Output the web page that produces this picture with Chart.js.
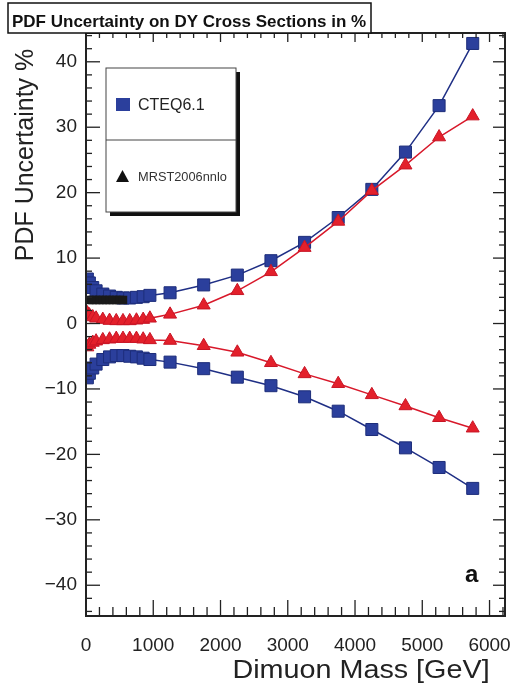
<!DOCTYPE html>
<html>
<head>
<meta charset="utf-8">
<script src="https://cdn.jsdelivr.net/npm/chart.js@4.4.1/dist/chart.umd.min.js"></script>
<style>html,body{margin:0;padding:0;background:#fff}</style>
</head>
<body>
<div style="width:518px;height:696px"><canvas id="pdf-chart"></canvas></div>
<script>
// dimuon mass points [GeV]
const mass = [20, 50, 100, 150, 250, 350, 450, 550, 650, 750, 850, 950, 1250, 1750, 2250, 2750, 3250, 3750, 4250, 4750, 5250, 5750];
const cteqUp   = [6.8, 6.2, 5.5, 5.0, 4.5, 4.2, 4.0, 3.9, 3.9, 4.0, 4.1, 4.3, 4.7, 5.9, 7.4, 9.6, 12.4, 16.2, 20.5, 26.2, 33.3, 42.8];
const cteqDown = [-8.3, -7.6, -6.8, -6.2, -5.5, -5.1, -4.9, -4.9, -5.0, -5.1, -5.3, -5.5, -5.9, -6.9, -8.2, -9.5, -11.2, -13.4, -16.2, -19.0, -22.0, -25.2];
const mrstUp   = [1.6, 1.3, 1.0, 0.8, 0.6, 0.45, 0.4, 0.4, 0.4, 0.5, 0.6, 0.8, 1.4, 2.8, 5.0, 7.9, 11.6, 15.6, 20.3, 24.2, 28.5, 31.7];
const mrstDown = [-3.6, -3.2, -2.9, -2.7, -2.5, -2.4, -2.3, -2.3, -2.3, -2.3, -2.4, -2.5, -2.6, -3.4, -4.4, -6.0, -7.7, -9.2, -10.9, -12.6, -14.4, -16.0];
// black band under the low-mass CTEQ points
const blackMass = [50, 100, 150, 200, 250, 300, 350, 400, 450, 500, 550];
const blackVals = [3.6, 3.6, 3.6, 3.6, 3.6, 3.6, 3.6, 3.6, 3.6, 3.6, 3.6];
// tick labels
const xTicks = [0, 1000, 2000, 3000, 4000, 5000, 6000];
const yTicks = [-40, -30, -20, -10, 0, 10, 20, 30, 40];

const FONT = "'Liberation Sans', Arial, sans-serif";
const pts = (xs, ys) => xs.map((m, i) => ({x: m, y: ys[i]}));

const blue = {
  pointStyle: 'rect', pointRadius: 8.5, borderWidth: 1.5, pointBorderWidth: 1,
  borderColor: '#1f2f85', pointBackgroundColor: '#2b3f9c', pointBorderColor: '#1d2d7a',
  order: 2
};
const red = {
  pointStyle: 'triangle', pointRadius: 7.5, borderWidth: 1.5, pointBorderWidth: 1,
  borderColor: '#d8182a', pointBackgroundColor: '#e3202b', pointBorderColor: '#c81525',
  order: 0
};

const frame = {
  id: 'frame',
  afterDatasetsDraw(chart) {
    const {ctx, chartArea: a, scales: {x, y}} = chart;
    const seg = (x1, y1, x2, y2) => { ctx.beginPath(); ctx.moveTo(x1, y1); ctx.lineTo(x2, y2); ctx.stroke(); };
    ctx.save();
    ctx.strokeStyle = '#222';
    ctx.lineWidth = 1.3;
    for (let v = 0; v <= x.max; v += 200) {
      const px = x.getPixelForValue(v), major = v % 1000 === 0;
      seg(px, a.bottom, px, a.bottom - (major ? 16 : 9));
      seg(px, a.top, px, a.top + (major ? 9 : 5));
    }
    for (let v = -44; v <= y.max; v += 2) {
      const py = y.getPixelForValue(v), major = v % 10 === 0;
      seg(a.left, py, a.left + (major ? 14 : 6), py);
      seg(a.right, py, a.right - (major ? 12 : 6), py);
    }
    ctx.lineWidth = 2;
    ctx.strokeRect(a.left, a.top, a.right - a.left, a.bottom - a.top);
    ctx.restore();
  }
};

const extras = {
  id: 'extras',
  afterDraw(chart) {
    const {ctx} = chart;
    ctx.save();
    // title box
    ctx.fillStyle = '#fff';
    ctx.fillRect(8, 3, 363, 30);
    ctx.strokeStyle = '#111';
    ctx.lineWidth = 1.5;
    ctx.strokeRect(8, 3, 363, 30);
    ctx.fillStyle = '#111';
    ctx.font = 'bold 17px ' + FONT;
    ctx.textBaseline = 'alphabetic';
    ctx.fillText('PDF Uncertainty on DY Cross Sections in %', 12, 27);

    // legend with drop shadow
    ctx.fillStyle = '#111';
    ctx.fillRect(110, 72, 130, 144);
    ctx.fillStyle = '#fff';
    ctx.fillRect(106, 68, 130, 144);
    ctx.strokeStyle = '#444';
    ctx.lineWidth = 1;
    ctx.strokeRect(106, 68, 130, 144);
    ctx.beginPath(); ctx.moveTo(106, 140); ctx.lineTo(236, 140); ctx.stroke();
    const ds = chart.data.datasets;
    ctx.fillStyle = '#2b3f9c';
    ctx.fillRect(116, 98, 14, 13);
    ctx.fillStyle = '#222';
    ctx.font = '16px ' + FONT;
    ctx.fillText(ds[2].label, 138, 110);
    ctx.fillStyle = '#111';
    ctx.beginPath(); ctx.moveTo(122.5, 170); ctx.lineTo(129, 182); ctx.lineTo(116, 182); ctx.closePath(); ctx.fill();
    ctx.fillStyle = '#333';
    ctx.font = '12.8px ' + FONT;
    ctx.fillText(ds[0].label, 138, 181);

    // axis titles
    ctx.fillStyle = '#222';
    ctx.save();
    ctx.translate(33, 155);
    ctx.rotate(-Math.PI / 2);
    ctx.font = '25px ' + FONT;
    ctx.textAlign = 'center';
    ctx.fillText('PDF Uncertainty %', 0, 0);
    ctx.restore();
    ctx.save();
    ctx.translate(361, 678);
    ctx.scale(1.15, 1);
    ctx.font = '25px ' + FONT;
    ctx.textAlign = 'center';
    ctx.fillText('Dimuon Mass [GeV]', 0, 0);
    ctx.restore();

    ctx.font = 'bold 24px ' + FONT;
    ctx.fillStyle = '#111';
    ctx.fillText('a', 465, 582);
    ctx.restore();
  }
};

new Chart(document.getElementById('pdf-chart'), {
  type: 'line',
  data: {
    datasets: [
      Object.assign({label: 'MRST2006nnlo', data: pts(mass, mrstUp)}, red),
      Object.assign({label: 'MRST2006nnlo', data: pts(mass, mrstDown)}, red),
      Object.assign({label: 'CTEQ6.1', data: pts(mass, cteqUp)}, blue),
      Object.assign({label: 'CTEQ6.1', data: pts(mass, cteqDown)}, blue),
      {label: '', data: pts(blackMass, blackVals), showLine: false, pointStyle: 'rect', pointRadius: 6,
       pointBackgroundColor: '#1a1a1a', pointBorderColor: '#1a1a1a', pointBorderWidth: 0, order: 1}
    ]
  },
  options: {
    responsive: true,
    maintainAspectRatio: false,
    animation: false,
    layout: { padding: { top: 33, right: 13, left: 0, bottom: 0 } },
    plugins: { legend: { display: false }, tooltip: { enabled: false }, title: { display: false } },
    scales: {
      x: {
        type: 'linear', min: 0, max: 6230,
        grid: { display: false, drawTicks: false }, border: { display: false },
        ticks: { maxRotation: 0, autoSkip: false, padding: 18, color: '#222', font: { family: FONT, size: 19 },
                 callback: v => String(v) },
        afterBuildTicks(s) { s.ticks = xTicks.map(v => ({value: v})); },
        afterFit(s) { s.height = 80; s.paddingLeft = 0; s.paddingRight = 0; }
      },
      y: {
        min: -44.7, max: 44.4,
        grid: { display: false, drawTicks: false }, border: { display: false },
        ticks: { padding: 9, color: '#222', font: { family: FONT, size: 19 },
                 callback: v => v < 0 ? '\u2212' + Math.abs(v) : String(v) },
        afterBuildTicks(s) { s.ticks = yTicks.map(v => ({value: v})); },
        afterFit(s) { s.width = 86; s.paddingTop = 0; s.paddingBottom = 0; }
      }
    }
  },
  plugins: [frame, extras]
});
</script>
</body>
</html>
